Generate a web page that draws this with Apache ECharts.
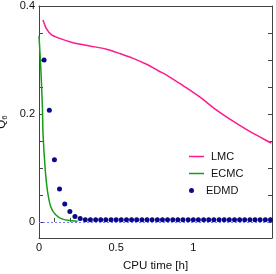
<!DOCTYPE html>
<html><head><meta charset="utf-8">
<script src="https://cdn.jsdelivr.net/npm/echarts@6/dist/echarts.min.js"></script>
<style>html,body{margin:0;padding:0;background:#fff}#c{width:276px;height:274px}</style>
</head><body><div id="c"></div>
<script>
// LMC curve
const lmcX = [0.026, 0.048, 0.08, 0.134, 0.221, 0.329, 0.437, 0.524, 0.61, 0.697, 0.773, 0.827, 0.935, 1.043, 1.151, 1.26, 1.368, 1.498, 1.506];
const lmcY = [0.374, 0.358, 0.347, 0.340, 0.332, 0.326, 0.320, 0.312, 0.303, 0.292, 0.280, 0.272, 0.252, 0.231, 0.207, 0.186, 0.167, 0.147, 0.146];
// ECMC curve
const ecmcX = [0, 0.011, 0.022, 0.026, 0.039, 0.054, 0.076, 0.108, 0.152, 0.217, 0.25];
const ecmcY = [0.345, 0.288, 0.214, 0.164, 0.102, 0.059, 0.028, 0.013, 0.005, 0.002, 0.001];
// EDMD points
const edmdX = [0.033, 0.067, 0.1, 0.133, 0.167, 0.2, 0.233, 0.267, 0.3, 0.333, 0.367, 0.4, 0.433, 0.467, 0.5, 0.533, 0.567, 0.6, 0.633, 0.667, 0.7, 0.733, 0.767, 0.8, 0.833, 0.867, 0.9, 0.933, 0.967, 1.0, 1.033, 1.067, 1.1, 1.133, 1.167, 1.2, 1.233, 1.267, 1.3, 1.333, 1.367, 1.4, 1.433, 1.467, 1.5];
const edmdY = [0.300, 0.207, 0.115, 0.061, 0.033, 0.019, 0.010, 0.006, 0.004, 0.004, 0.004, 0.004, 0.004, 0.004, 0.004, 0.004, 0.004, 0.004, 0.004, 0.004, 0.004, 0.004, 0.004, 0.004, 0.004, 0.004, 0.004, 0.004, 0.004, 0.004, 0.004, 0.004, 0.004, 0.004, 0.004, 0.004, 0.004, 0.004, 0.004, 0.004, 0.004, 0.004, 0.004, 0.004, 0.004];
// ticks
const xLabels = [0, 0.5, 1];
const xTicks = [0, 0.1, 0.2, 0.3, 0.4, 0.5, 0.6, 0.7, 0.8, 0.9, 1.0, 1.1, 1.2, 1.3, 1.4, 1.5];
const yLabels = [0, 0.2, 0.4];
const yTicks = [0, 0.05, 0.1, 0.15, 0.2, 0.25, 0.3, 0.35, 0.4];

const zip = (a, b) => a.map((v, i) => [v, b[i]]);
const font = 'Liberation Sans, Arial, sans-serif';
const C_LMC = '#ff1a8c', C_ECMC = '#169c16', C_EDMD = '#0a0a88', C_AX = '#444';
const chart = echarts.init(document.getElementById('c'), null, {renderer: 'canvas'});
const axLine = {show: true, onZero: false, lineStyle: {color: C_AX, width: 1}};
const xRange = {type: 'value', min: 0, max: 1.51, splitLine: {show: false}};
const yRange = {type: 'value', min: -0.03, max: 0.4, splitLine: {show: false}};
const tickOnly = (vals) => ({show: true, inside: true, length: 4, customValues: vals, lineStyle: {color: C_AX}});
const legendText = {color: '#111', fontSize: 11, fontFamily: font, padding: [0, 0, 0, 2]};
chart.setOption({
  animation: false,
  grid: {left: 39, top: 6, right: 4, bottom: 36, show: false, containLabel: false, outerBoundsMode: 'none'},
  xAxis: [Object.assign({}, xRange, {
    position: 'bottom', axisLine: axLine, axisTick: {show: false},
    axisLabel: {customValues: xLabels, color: '#111', fontSize: 11, fontFamily: font, margin: 4,
      formatter: v => String(v)},
    name: 'CPU time [h]', nameLocation: 'middle', nameGap: 22,
    nameTextStyle: {color: '#111', fontSize: 11.5, fontFamily: font}
  }), Object.assign({}, xRange, {
    position: 'top', axisLine: axLine, axisTick: {show: false}, axisLabel: {show: false}
  }), Object.assign({}, xRange, {
    position: 'bottom', offset: 0, axisLine: {show: false}, axisTick: tickOnly(xTicks), axisLabel: {show: false}
  })],
  yAxis: [Object.assign({}, yRange, {
    position: 'left', axisLine: axLine, axisTick: {show: false},
    axisLabel: {customValues: yLabels, color: '#111', fontSize: 11, fontFamily: font, margin: 4,
      formatter: v => String(v)},
    name: 'Q{s|6}', nameLocation: 'middle', nameGap: 25, nameRotate: 90,
    nameTextStyle: {color: '#111', fontSize: 11.5, fontFamily: font,
      rich: {s: {fontSize: 8, fontFamily: font, color: '#111', verticalAlign: 'bottom', padding: [6, 0, 0, 0]}}}
  }), Object.assign({}, yRange, {
    position: 'right', axisLine: axLine, axisTick: tickOnly(yTicks), axisLabel: {show: false}
  }), Object.assign({}, yRange, {
    position: 'left', offset: 0, axisLine: {show: false}, axisTick: tickOnly(yTicks), axisLabel: {show: false}
  })],
  legend: [{
    data: [{name: 'LMC', icon: 'rect', itemStyle: {color: C_LMC}}], left: 184, top: 146,
    itemWidth: 15, itemHeight: 1.5, textStyle: legendText
  }, {
    data: [{name: 'ECMC', icon: 'rect', itemStyle: {color: C_ECMC}}], left: 184, top: 163,
    itemWidth: 15, itemHeight: 1.5, textStyle: legendText
  }, {
    data: [{name: 'EDMD', icon: 'circle', itemStyle: {color: C_EDMD}}], left: 184, top: 180,
    itemWidth: 15, itemHeight: 5, textStyle: legendText
  }],
  series: [{
    name: 'LMC', type: 'line', data: zip(lmcX, lmcY), symbol: 'none', smooth: 0.3,
    lineStyle: {color: C_LMC, width: 1.5}, itemStyle: {color: C_LMC}, z: 2
  }, {
    name: 'ECMC', type: 'line', data: zip(ecmcX, ecmcY), symbol: 'none', smooth: 0.3,
    lineStyle: {color: C_ECMC, width: 1.5}, itemStyle: {color: C_ECMC}, z: 3
  }, {
    name: 'EDMD', type: 'scatter', data: zip(edmdX, edmdY), symbol: 'circle', symbolSize: 5,
    itemStyle: {color: C_EDMD, opacity: 1}, z: 4,
    markLine: {silent: true, symbol: 'none', label: {show: false},
      lineStyle: {color: '#7a7aff', type: [2, 2], width: 1}, data: [{yAxis: 0}]}
  }]
});
</script></body></html>
